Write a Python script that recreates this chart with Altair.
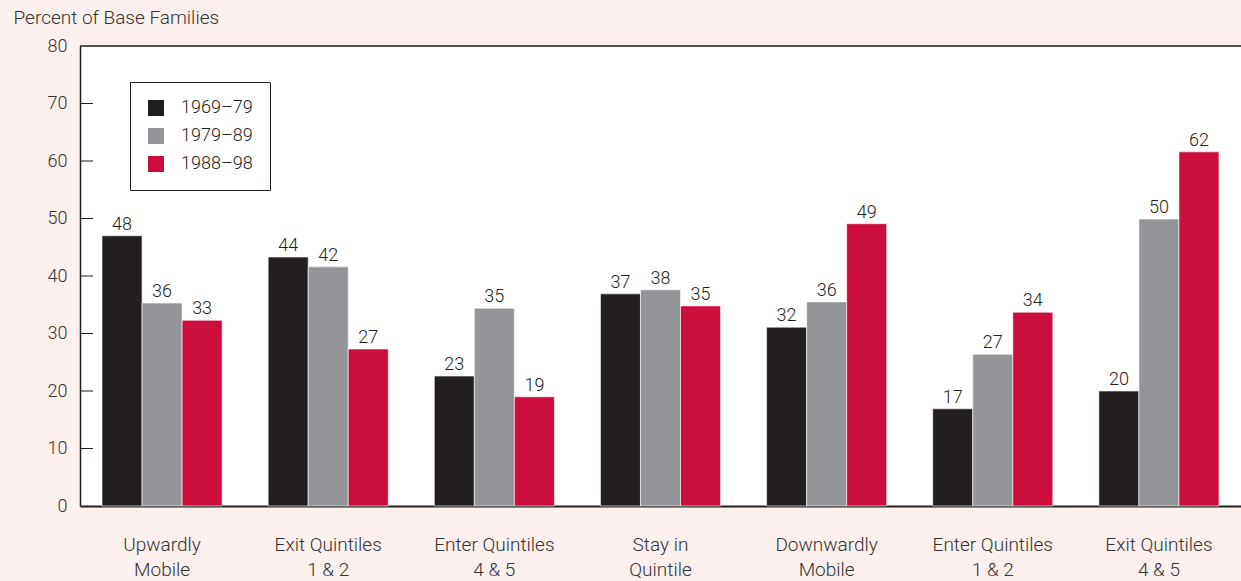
import altair as alt
import pandas as pd

categories = ["Upwardly|Mobile", "Exit Quintiles|1 & 2", "Enter Quintiles|4 & 5",
              "Stay in|Quintile", "Downwardly|Mobile", "Enter Quintiles|1 & 2",
              "Exit Quintiles|4 & 5"]
series = ["1969\u201379", "1979\u201389", "1988\u201398"]
colors = ["#231f20", "#939598", "#cc0e3f"]

# bar heights
vals_6979 = [47.0, 43.3, 22.6, 36.9, 31.1, 16.9, 20.0]
vals_7989 = [35.3, 41.6, 34.4, 37.6, 35.5, 26.4, 49.9]
vals_8898 = [32.3, 27.3, 19.0, 34.8, 49.1, 33.7, 61.6]
# printed labels
labs_6979 = [48, 44, 23, 37, 32, 17, 20]
labs_7989 = [36, 42, 35, 38, 36, 27, 50]
labs_8898 = [33, 27, 19, 35, 49, 34, 62]

inner_ticks = [10, 20, 30, 40, 50, 60, 70]

rows = []
for s, vs, ls in zip(series, [vals_6979, vals_7989, vals_8898], [labs_6979, labs_7989, labs_8898]):
    for c, v, l in zip(categories, vs, ls):
        rows.append({"cat": c, "series": s, "v": v, "lab": str(l)})
df = pd.DataFrame(rows)

FONT = "Roboto"
W, H = 1161, 460

xenc = alt.X("cat:N", sort=categories, title=None,
             scale=alt.Scale(paddingInner=0.277, paddingOuter=0.1325),
             axis=alt.Axis(labelExpr="split(datum.label, '|')", labelAngle=0,
                           ticks=False, labelPadding=29, labelFontSize=19,
                           labelColor="#333333", labelLineHeight=25,
                           domainColor="#231f20", domainWidth=2, labelFont=FONT,
                           labelFontWeight=300))
xoff = alt.XOffset("series:N", sort=series,
                   scale=alt.Scale(paddingInner=0, paddingOuter=0))
yenc = alt.Y("v:Q", scale=alt.Scale(domain=[0, 80], nice=False),
             axis=alt.Axis(values=[0, 10, 20, 30, 40, 50, 60, 70, 80], ticks=False,
                           labelPadding=13, labelFontSize=18, labelColor="#333333",
                           labelFont=FONT, labelFontWeight=300,
                           domainColor="#231f20", domainWidth=1.5, grid=False,
                           title="Percent of Base Families", titleAngle=0,
                           titleX=-67, titleY=-23, titleAlign="left",
                           titleBaseline="alphabetic", titleFontSize=19,
                           titleFontWeight=300, titleColor="#333333", titleFont=FONT))

base = alt.Chart(df)
bars = base.mark_bar(stroke="white", strokeWidth=0.6).encode(
    x=xenc, xOffset=xoff, y=yenc,
    color=alt.Color("series:N", sort=series,
                    scale=alt.Scale(domain=series, range=colors),
                    legend=alt.Legend(title=None, orient="none", legendX=50, legendY=36,
                                      symbolType="square", symbolSize=256,
                                      symbolStrokeWidth=0, labelFontSize=18,
                                      labelFont=FONT, labelFontWeight=300,
                                      labelColor="#231f20", rowPadding=10,
                                      symbolOffset=0, labelOffset=16,
                                      padding=17, fillColor="white",
                                      strokeColor="#231f20", cornerRadius=0)),
)
texts = base.mark_text(baseline="alphabetic", dy=-6, fontSize=18, font=FONT,
                       fontWeight=300, color="#231f20").encode(
    x=alt.X("cat:N", sort=categories), xOffset=xoff, y="v:Q", text="lab:N")

tick_df = pd.DataFrame({"v": inner_ticks})
ticks = alt.Chart(tick_df).mark_rule(color="#231f20", strokeWidth=1).encode(
    y="v:Q", x=alt.value(0), x2=alt.value(13))

top_df = pd.DataFrame({"v": [80]})
top = alt.Chart(top_df).mark_rule(color="#231f20", strokeWidth=1.5).encode(
    y="v:Q", x=alt.value(0), x2=alt.value(W))

chart = alt.layer(bars, texts, ticks, top).properties(
    width=W, height=H,
    autosize=alt.AutoSizeParams(type="none"),
    padding={"left": 80, "top": 46, "right": 0, "bottom": 75},
    background="#fbf0ed",
).configure_view(fill="white", stroke=None)

chart.save("out.html", embed_options={"renderer": "svg", "actions": False})
